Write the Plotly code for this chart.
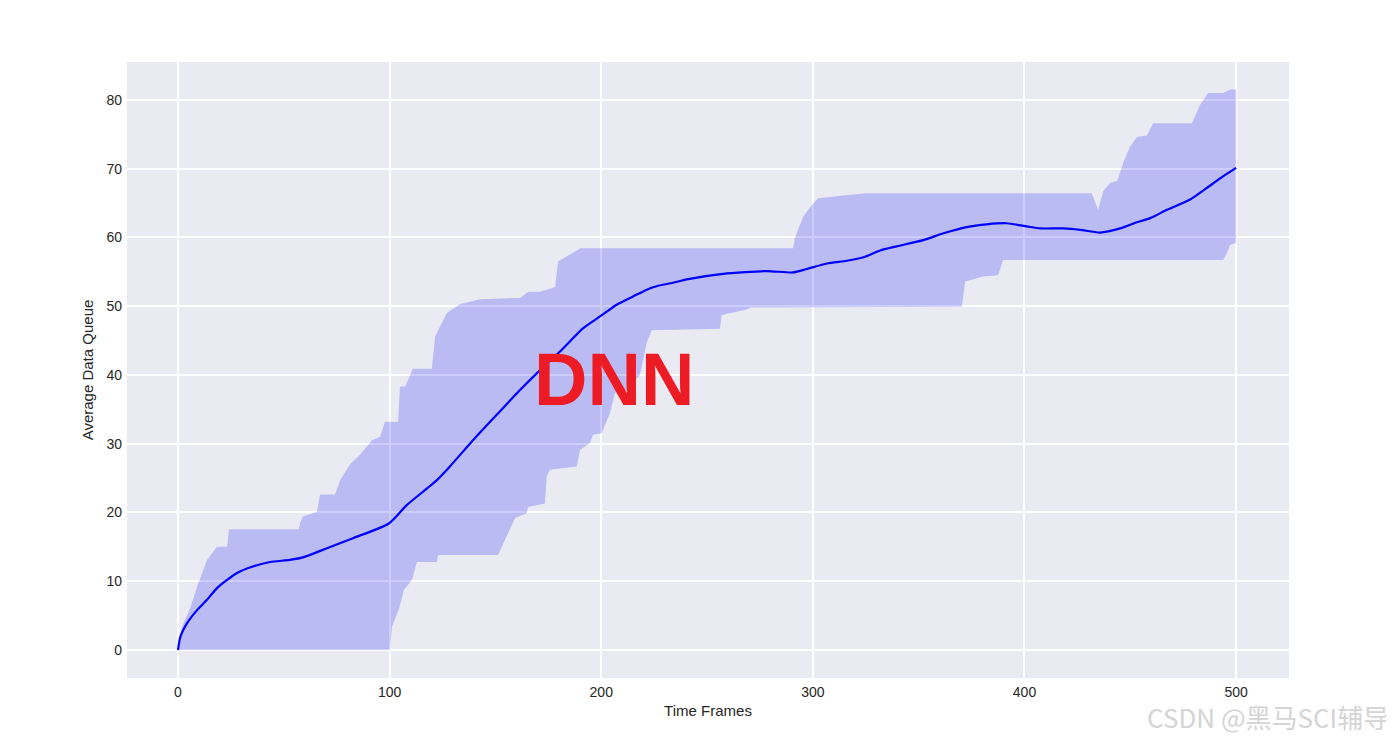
import plotly.graph_objects as go

# Mean curve
mean_x = [0, 1.1, 4.3, 9.0, 13.7, 18.4, 23.2, 27.9, 35.0, 43.5, 52.9, 59.4, 70.4, 83.0, 99.7,
          108.2, 117.7, 122.3, 128.5, 139.4, 150.6, 161.6, 171.1, 180.5, 191.5, 199.4, 207.3,
          215.0, 221.5, 226.2, 233.9, 240.4, 257.6, 278.2, 290.6, 297.1, 306.6, 316.0, 323.9,
          331.8, 339.7, 352.2, 361.7, 372.7, 382.2, 391.6, 401.1, 407.4, 418.4, 426.3, 435.7,
          445.2, 453.1, 459.4, 467.3, 478.3, 486.2, 494.0, 500]
mean_y = [0, 1.9, 3.9, 5.8, 7.3, 9.0, 10.2, 11.2, 12.1, 12.8, 13.1, 13.5, 14.8, 16.3, 18.4,
          21.1, 23.5, 24.7, 26.7, 30.5, 34.2, 37.8, 40.7, 43.4, 46.8, 48.5, 50.2,
          51.4, 52.4, 52.9, 53.4, 53.9, 54.7, 55.1, 54.9, 55.4, 56.2, 56.6, 57.1,
          58.1, 58.7, 59.6, 60.6, 61.5, 61.9, 62.05, 61.6, 61.3, 61.3, 61.1, 60.7,
          61.3, 62.2, 62.8, 64.0, 65.5, 67.2, 68.9, 70.1]

# Upper bound of the band
upper_x = [0, 1.9, 5.8, 9.0, 13.7, 18.4, 23.2, 24.1, 57.0, 57.7, 59.0, 65.7, 67.1, 74.2, 76.6,
           81.3, 86.0, 91.7, 95.5, 97.8, 104.0, 104.9, 107.3, 111.0, 119.9, 121.5, 127.0,
           133.3, 142.7, 161.6, 165.4, 171.1, 178.2, 179.6, 189.0, 190.0, 290.6, 291.5, 295.4,
           299.5, 302.5, 323.1, 324.7, 431.8, 434.8, 437.2, 440.4, 443.8, 446.6, 449.9, 453.1,
           457.8, 460.8, 479.1, 483.0, 486.8, 493.9, 497.2, 500]
upper_y = [0, 3.4, 6.1, 9.2, 13.1, 15.0, 15.0, 17.55, 17.55, 18.5, 19.4, 20.1, 22.6, 22.6, 24.7,
           27.0, 28.4, 30.5, 31.0, 33.2, 33.2, 38.3, 38.3, 40.9, 40.9, 45.6, 49.0,
           50.3, 51.0, 51.2, 52.1, 52.1, 52.8, 56.5, 58.2, 58.4, 58.4, 59.9, 63.0,
           64.7, 65.7, 66.3, 66.4, 66.4, 64.0, 66.7, 67.9, 68.2, 70.8, 73.2, 74.6,
           74.8, 76.6, 76.6, 79.3, 81.0, 81.0, 81.5, 81.5]

# Lower bound of the band
lower_x = [0, 100.2, 101.1, 104.3, 106.7, 110.6, 112.9, 122.4, 122.8, 151.2, 154.5, 159.3, 164.8,
           165.4, 173.4, 174.2, 175.8, 188.4, 190.0, 194.7, 196.1, 200.2, 204.2, 206.5, 212.0,
           218.3, 221.5, 223.9, 256.1, 256.9, 268.8, 270.3, 370.4, 372.0, 380.4, 387.5, 389.9,
           493.9, 495.6, 497.2, 500]
lower_y = [0, 0, 3.4, 5.8, 8.7, 10.2, 12.8, 12.8, 13.8, 13.8, 16.0, 19.2, 19.9,
           20.8, 21.3, 25.2, 26.2, 26.7, 29.1, 30.1, 31.3, 31.5, 34.5, 37.4, 37.8,
           40.0, 44.7, 46.5, 46.7, 48.7, 49.5, 49.8, 49.9, 53.6, 54.3, 54.5, 56.7,
           56.7, 57.7, 58.9, 59.2]

x_ticks = [0, 100, 200, 300, 400, 500]
y_ticks = [0, 10, 20, 30, 40, 50, 60, 70, 80]

fig = go.Figure()
fig.add_trace(go.Scatter(
    x=upper_x + lower_x[::-1], y=upper_y + lower_y[::-1],
    fill="toself", fillcolor="rgba(0,0,255,0.2)", line=dict(width=0),
    mode="lines", hoverinfo="skip", showlegend=False))
fig.add_trace(go.Scatter(
    x=mean_x, y=mean_y, mode="lines", line=dict(color="#0000FF", width=2.2, shape="spline", smoothing=0.6),
    showlegend=False))

fig.add_annotation(x=206, y=39.3, xref="x", yref="y", text="<b>DNN</b>", showarrow=False,
                   font=dict(family="Liberation Sans, Arial, sans-serif", size=74, color="#ED1C24"))
fig.add_annotation(x=1.088, y=-0.063, xref="paper", yref="paper", xanchor="right", yanchor="middle",
                   text="CSDN @黑马SCI辅导", showarrow=False,
                   font=dict(family="Noto Sans CJK SC", size=26, color="#D4D4D4"))

tick_font = dict(family="Liberation Sans, Arial, sans-serif", size=14, color="#262626")
title_font = dict(family="Liberation Sans, Arial, sans-serif", size=15, color="#262626")
fig.update_layout(
    width=1394, height=740,
    margin=dict(l=119, r=113, t=54, b=70),
    paper_bgcolor="white", plot_bgcolor="#EAEAF2",
    font=tick_font,
    xaxis=dict(range=[-24.1, 525], tickvals=x_ticks, showgrid=True, gridcolor="white", gridwidth=1.5,
               zeroline=False, showline=False, ticks="", tickfont=tick_font, ticklabelstandoff=4,
               title=dict(text="Time Frames", font=title_font, standoff=6)),
    yaxis=dict(range=[-4.07, 85.5], tickvals=y_ticks, showgrid=True, gridcolor="white", gridwidth=1.5,
               zeroline=False, showline=False, ticks="", tickfont=tick_font, ticklabelstandoff=4,
               title=dict(text="Average Data Queue", font=title_font, standoff=9)),
)

fig.write_html("out.html")
